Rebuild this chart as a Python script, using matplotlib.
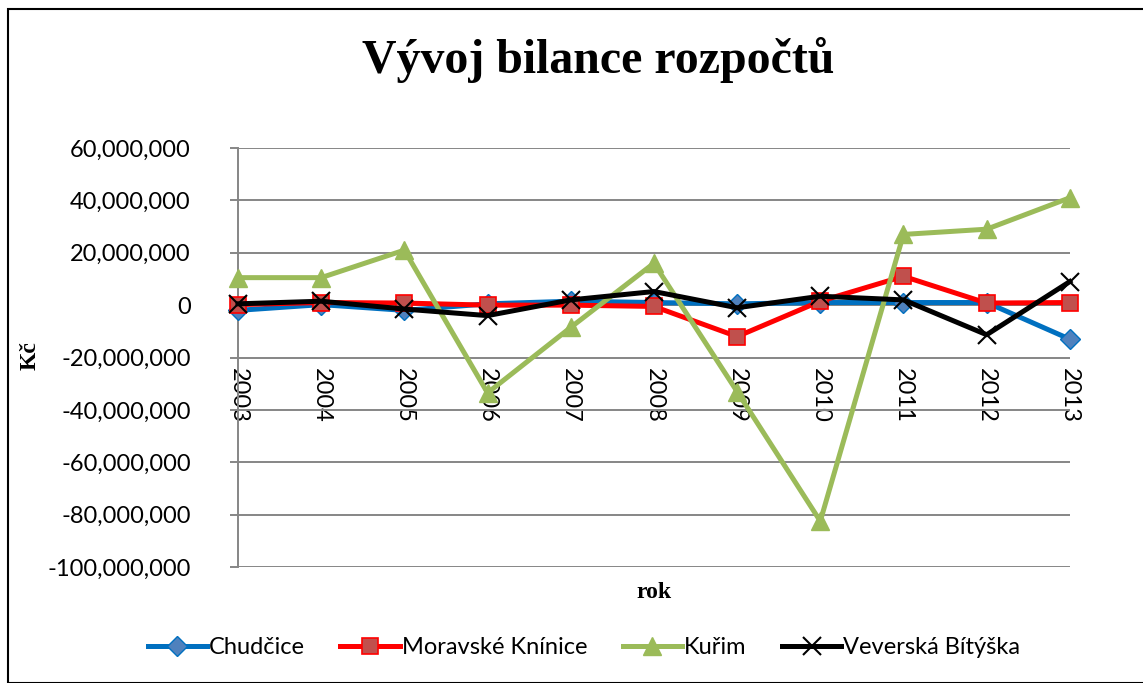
import numpy as np
import matplotlib
matplotlib.use('Agg')
import matplotlib.pyplot as plt
from matplotlib.ticker import FuncFormatter
from matplotlib.patches import Rectangle

# data
years = [2003, 2004, 2005, 2006, 2007, 2008, 2009, 2010, 2011, 2012, 2013]
chudcice = [-2.0e6, 0.2e6, -2.0e6, 0.5e6, 1.5e6, 1.0e6, 0.5e6, 1.0e6, 1.0e6, 1.0e6, -13.0e6]
moravske_kninice = [0.2e6, 1.0e6, 0.8e6, 0.0, 0.0, -0.5e6, -12.0e6, 1.5e6, 11.0e6, 0.8e6, 1.0e6]
kurim = [10.5e6, 10.5e6, 21.0e6, -33.5e6, -8.5e6, 16.0e6, -33.0e6, -82.5e6, 27.0e6, 29.0e6, 41.0e6]
veverska_bityska = [0.5e6, 1.5e6, -1.5e6, -4.0e6, 2.0e6, 5.2e6, -1.0e6, 3.4e6, 2.0e6, -11.3e6, 9.0e6]
y_ticks = [60e6, 40e6, 20e6, 0, -20e6, -40e6, -60e6, -80e6, -100e6]

label_font = ['Lato', 'DejaVu Sans']
serif_font = ['Liberation Serif', 'DejaVu Serif']

fig = plt.figure(figsize=(11.43, 6.83), dpi=100)
ax = fig.add_axes([0.2082, 0.1698, 0.936 - 0.2082, 0.7833 - 0.1698])

grid_c = '#868686'
ax.set_ylim(-100e6, 60e6)
ax.set_xlim(years[0], years[-1])
ax.set_yticks(y_ticks)
ax.yaxis.grid(True, color=grid_c, linewidth=1.4)
ax.set_axisbelow(True)
ax.yaxis.set_major_formatter(FuncFormatter(lambda v, p: f'{v:,.0f}'))
for s in ['top', 'right']:
    ax.spines[s].set_visible(False)
ax.spines['left'].set_color(grid_c)
ax.spines['left'].set_linewidth(1.4)
ax.spines['bottom'].set_position(('data', 0))
ax.spines['bottom'].set_color(grid_c)
ax.spines['bottom'].set_linewidth(1.4)
ax.tick_params(axis='y', length=6, width=1.4, color=grid_c, pad=28, labelsize=17)
ax.tick_params(axis='x', length=0, pad=45, labelsize=17, labelrotation=270)
ax.set_xticks(years)
ax.set_xticklabels([str(y) for y in years], va='top', ha='center')
for lbl in ax.get_xticklabels() + ax.get_yticklabels():
    lbl.set_family(label_font)

ax.plot(years, chudcice, '-D', color='#0070C0', linewidth=3.6, markersize=10,
        markerfacecolor='#4F81BD', markeredgecolor='#0070C0', markeredgewidth=1,
        label='Chudčice', clip_on=False, zorder=3)
ax.plot(years, moravske_kninice, '-s', color='#FF0000', linewidth=3.6, markersize=11,
        markerfacecolor='#C0504D', markeredgecolor='#FF0000', markeredgewidth=1.2,
        label='Moravské Knínice', clip_on=False, zorder=4)
ax.plot(years, kurim, '-^', color='#9BBB59', linewidth=3.6, markersize=13,
        markerfacecolor='#9BBB59', markeredgecolor='#9BBB59',
        label='Kuřim', clip_on=False, zorder=5)
ax.plot(years, veverska_bityska, '-x', color='black', linewidth=3.6, markersize=13,
        markeredgewidth=1.5, label='Veverská Bítýška', clip_on=False, zorder=6)

ax.set_xlabel('rok', family=serif_font, fontweight='bold', fontsize=17)
ax.xaxis.set_label_coords(0.5, -0.035)
fig.text(0.026, 0.48, 'Kč', family=serif_font, fontweight='bold', fontsize=17,
         rotation=90, ha='center', va='center')
fig.text(0.523, 0.912, 'Vývoj bilance rozpočtů', family=serif_font,
         fontweight='bold', fontsize=34.5, ha='center', va='center')

leg = fig.legend(loc='center', bbox_to_anchor=(0.511, 1 - 648 / 683), ncol=4,
                 frameon=False, prop={'family': label_font, 'size': 17},
                 handlelength=2.5, handletextpad=0.1, columnspacing=1.5, numpoints=1)

fig.patches.append(Rectangle((8 / 1143, 0), 1.2, 1 - 9 / 683, transform=fig.transFigure,
                             fill=False, edgecolor='black', linewidth=1.5))

fig.savefig('out.png', dpi=100)
